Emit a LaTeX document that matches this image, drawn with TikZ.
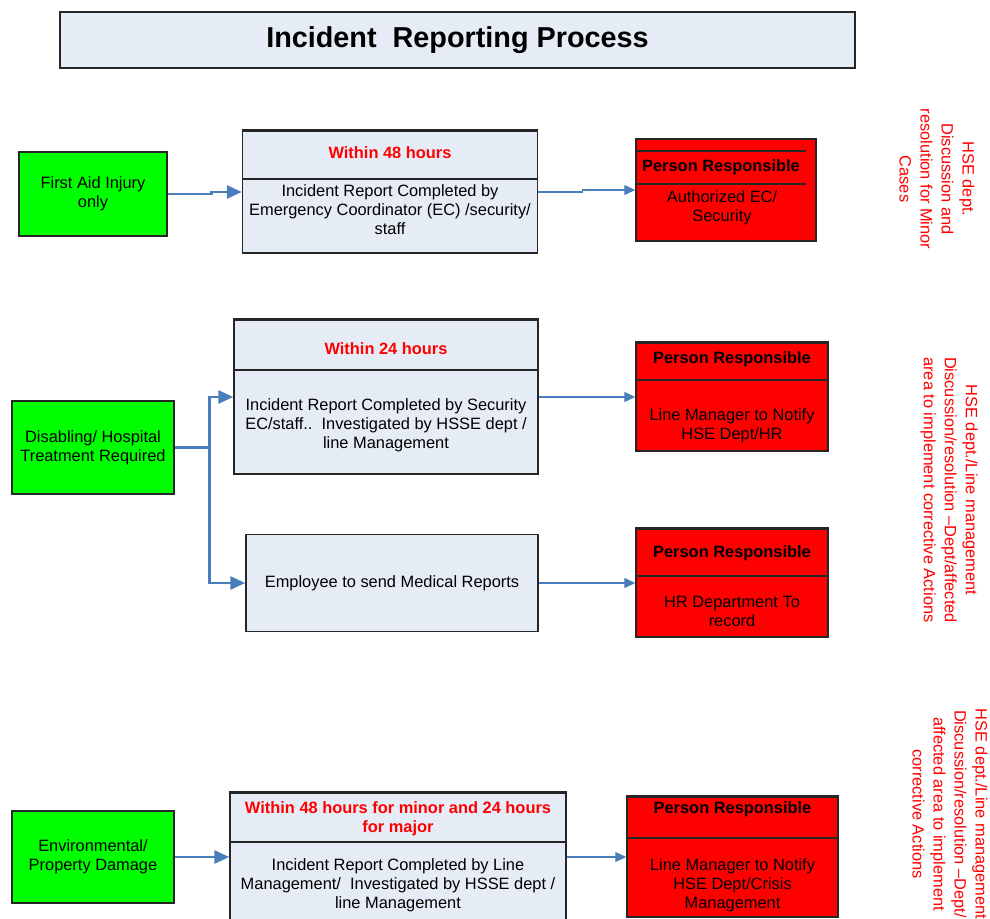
\documentclass[tikz,border=0pt]{standalone}
\usepackage{fontspec}
\setmainfont{Liberation Sans}
\usetikzlibrary{arrows.meta,positioning}
\definecolor{paleblue}{HTML}{E6ECF6}
\definecolor{linkblue}{HTML}{4A7EBB}
\tikzset{
  frame/.style={draw=black!85, line width=0.7pt, inner sep=0pt},
  greenbox/.style={frame, fill=green, align=center, font=\fontsize{8.2}{9.5}\selectfont},
  bluebox/.style={frame, fill=paleblue, align=center, font=\fontsize{8.2}{9.5}\selectfont},
  redbox/.style={frame, fill=red},
  hdr/.style={font=\fontsize{8.2}{9.5}\selectfont\bfseries, align=center},
  txt/.style={font=\fontsize{8.2}{9.5}\selectfont, align=center},
  side/.style={font=\fontsize{8.2}{10.5}\selectfont, text=red, align=center, rotate=-90},
  fatlink/.style={draw=linkblue, line width=1.4pt, -{Triangle[length=7.5pt,width=6.5pt]}},
  slimlink/.style={draw=linkblue, line width=0.6pt, -{Triangle[length=5.5pt,width=5pt]}},
  topedge/.style={line width=1.3pt, draw=black!85},
}

\begin{document}
\begin{tikzpicture}[x=0.5pt,y=-0.5pt]
        \useasboundingbox (0,0) rectangle (990,919);

        % Title
        \node[bluebox, minimum width=397.5pt, minimum height=28pt, font=\fontsize{14.4}{17}\selectfont\bfseries] (T) at (457.5,40) {Incident\ \ Reporting Process};

        % First row: first aid
        \node[greenbox, minimum width=74pt, minimum height=42pt] (G1) at (93,194) {First Aid Injury\\only};
        \node[bluebox, minimum width=147.5pt, minimum height=61pt] (B1) at (390,192) {};
        \draw[frame] (B1.west |- 0,179) -- (B1.east |- 0,179); \draw[topedge] (B1.north west) -- (B1.north east);
        \node[hdr, text=red] (B1h) at (390,153) {Within 48 hours};
        \node[txt] (B1t) at (390,210) {Incident Report Completed by\\Emergency Coordinator (EC) /security/\\staff};
        \node[redbox, minimum width=90pt, minimum height=51pt] (R1) at (726,190) {};
        \draw[frame] (R1.west |- 0,151) -- (806,151); \draw[frame] (R1.west |- 0,184) -- (806,184);
        \node[hdr] (R1h) at (721,167) {Person Responsible};
        \node[txt] (R1t) at (722,208) {Authorized EC/\\Security};

        % Second row: disabling / hospital
        \node[greenbox, minimum width=81pt, minimum height=46.5pt] (G2) at (93,447.5) {Disabling/ Hospital\\Treatment Required};
        \node[bluebox, minimum width=152pt, minimum height=77pt] (B2) at (386,397) {};
        \draw[frame] (B2.west |- 0,370) -- (B2.east |- 0,370); \draw[topedge] (B2.north west) -- (B2.north east);
        \node[hdr, text=red] (B2h) at (386,349) {Within 24 hours};
        \node[txt] (B2t) at (386,425) {Incident Report Completed by Security\\EC/staff..\ \ Investigated by HSSE dept /\\line Management};
        \node[redbox, minimum width=96pt, minimum height=54pt] (R2) at (732,397) {};
        \draw[frame] (R2.west |- 0,380) -- (R2.east |- 0,380); \draw[topedge] (R2.north west) -- (R2.north east);
        \node[hdr] (R2h) at (732,359) {Person Responsible};
        \node[txt] (R2t) at (732,425.5) {Line Manager to Notify\\HSE Dept/HR};

        \node[bluebox, minimum width=146pt, minimum height=48.5pt] (B3) at (392,583) {Employee to send Medical Reports};
        \node[redbox, minimum width=96pt, minimum height=54pt] (R3) at (732,583) {};
        \draw[frame] (R3.west |- 0,576) -- (R3.east |- 0,576); \draw[topedge] (R3.north west) -- (R3.north east);
        \node[hdr] (R3h) at (732,553) {Person Responsible};
        \node[txt] (R3t) at (732,611.5) {HR Department To\\record};

        % Third row: environmental
        \node[greenbox, minimum width=81pt, minimum height=46pt] (G3) at (93,857) {Environmental/\\Property Damage};
        \node[bluebox, minimum width=168pt, minimum height=64pt] (B4) at (398,857) {};
        \draw[frame] (B4.west |- 0,842) -- (B4.east |- 0,842); \draw[topedge] (B4.north west) -- (B4.north east);
        \node[hdr, text=red] (B4h) at (398,818.5) {Within 48 hours for minor and 24 hours\\for major};
        \node[txt] (B4t) at (398,885) {Incident Report Completed by Line\\Management/\ \ Investigated by HSSE dept /\\line Management};
        \node[redbox, minimum width=105.5pt, minimum height=60pt] (R4) at (732.5,857) {};
        \draw[frame] (R4.west |- 0,838) -- (R4.east |- 0,838); \draw[topedge] (R4.north west) -- (R4.north east);
        \node[hdr] (R4h) at (732.5,809) {Person Responsible};
        \node[txt] (R4t) at (732.5,885) {Line Manager to Notify\\HSE Dept/Crisis\\Management};

        % Connectors
        \draw[fatlink] (G1.east) -- ++(44,0) |- (B1.west);
        \draw[slimlink] (B1.east) -- ++(44,0) |- (R1.west);
        \draw[fatlink] (G2.east) -- ++(35,0) coordinate (J) |- (B2.west);
        \draw[fatlink] (J) |- (B3.west);
        \draw[slimlink] (B2.east) -- (R2.west);
        \draw[slimlink] (B3.east) -- (R3.west);
        \draw[fatlink] (G3.east) -- (B4.west);
        \draw[slimlink] (B4.east) -- (R4.west);

        % Side notes
        \node[side] (S1) at (937,179) {HSE dept.\\Discussion and\\resolution for Minor\\Cases};
        \node[side] (S2) at (949,490) {HSE dept./Line management\\Discussion/resolution –Dept/affected\\area to implement corrective Actions};
        \node[side] (S3) at (950,814) {HSE dept./Line management\\Discussion/resolution –Dept/\\affected area to implement\\corrective Actions};
	\end{tikzpicture}
\end{document}
